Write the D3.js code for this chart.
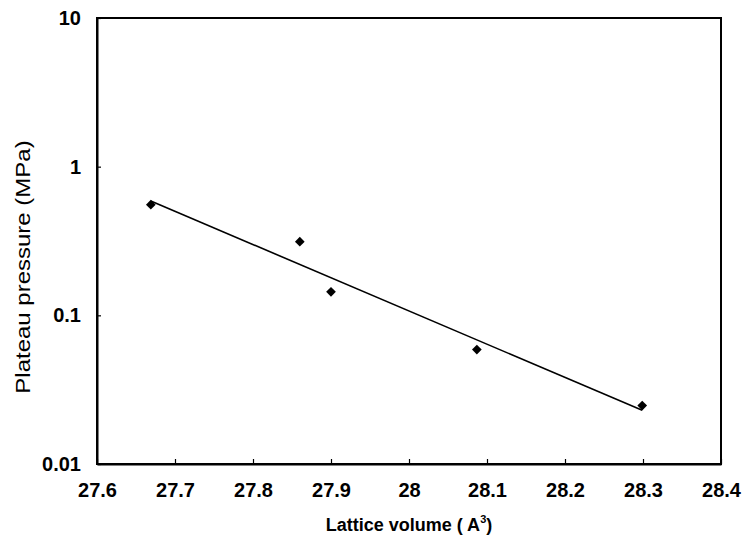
<!DOCTYPE html>
<html>
<head>
<meta charset="utf-8">
<script src="https://cdn.jsdelivr.net/npm/d3@7"></script>
<style>
  html, body { margin: 0; padding: 0; background: #fff; }
  text { font-family: "Liberation Sans", Arial, sans-serif; fill: #000; }
</style>
</head>
<body>
<svg id="chart" width="744" height="544"></svg>
<script>
// Data
const latticeVolume = [27.669, 27.860, 27.900, 28.087, 28.299];
const plateauPressure = [0.555, 0.313, 0.144, 0.0588, 0.0247];
const xTicks = [27.6, 27.7, 27.8, 27.9, 28.0, 28.1, 28.2, 28.3, 28.4];
const yTicks = [0.01, 0.1, 1, 10];
const xTickLabels = ["27.6", "27.7", "27.8", "27.9", "28", "28.1", "28.2", "28.3", "28.4"];
const yTickLabels = ["0.01", "0.1", "1", "10"];

const svg = d3.select("#chart");
const margin = { left: 97, right: 23, top: 18, bottom: 80 };
const W = 744, H = 544;
const x = d3.scaleLinear().domain([27.6, 28.4]).range([margin.left, W - margin.right]);
const y = d3.scaleLog().domain([0.01, 10]).range([H - margin.bottom, margin.top]);

// frame
svg.append("rect")
  .attr("x", x(27.6)).attr("y", y(10))
  .attr("width", x(28.4) - x(27.6)).attr("height", y(0.01) - y(10))
  .attr("fill", "none").attr("stroke", "#000").attr("stroke-width", 2);

// x axis
const xAxis = d3.axisBottom(x).tickValues(xTicks)
  .tickFormat((d, i) => xTickLabels[i]).tickSizeInner(-5).tickSizeOuter(0).tickPadding(19);
const gx = svg.append("g").attr("transform", `translate(0,${y(0.01)})`).call(xAxis);
gx.select(".domain").attr("stroke-width", 2);
gx.selectAll("line").attr("stroke-width", 1.2);
gx.selectAll("text").attr("font-size", 20).attr("font-weight", "bold")
  .attr("font-family", "Liberation Sans, Arial, sans-serif").attr("fill", "#000");

// y axis
const yAxis = d3.axisLeft(y).tickValues(yTicks)
  .tickFormat((d, i) => yTickLabels[i]).tickSizeInner(-4).tickSizeOuter(0).tickPadding(16);
const gy = svg.append("g").attr("transform", `translate(${x(27.6)},0)`).call(yAxis);
gy.select(".domain").attr("stroke-width", 2);
gy.selectAll("line").attr("stroke-width", 1.2);
gy.selectAll("text").attr("font-size", 20).attr("font-weight", "bold")
  .attr("font-family", "Liberation Sans, Arial, sans-serif").attr("fill", "#000");

// exponential trend line (least squares on log10 values)
const lx = latticeVolume, ly = plateauPressure.map(v => Math.log10(v));
const mx = d3.mean(lx), my = d3.mean(ly);
const slope = d3.sum(lx, (v, i) => (v - mx) * (ly[i] - my)) / d3.sum(lx, v => (v - mx) ** 2);
const icpt = my - slope * mx;
const xmin = d3.min(lx), xmax = d3.max(lx);
const trend = [xmin, xmax].map(v => [v, Math.pow(10, icpt + slope * v)]);
svg.append("path")
  .datum(trend)
  .attr("d", d3.line().x(d => x(d[0])).y(d => y(d[1])))
  .attr("fill", "none").attr("stroke", "#000").attr("stroke-width", 1.6);

// points (diamonds)
const sym = d3.symbol().type(d3.symbolDiamond2).size(60);
svg.append("g").selectAll("path")
  .data(latticeVolume.map((v, i) => [v, plateauPressure[i]]))
  .join("path")
  .attr("d", sym)
  .attr("transform", d => `translate(${x(d[0])},${y(d[1])})`)
  .attr("fill", "#000");

// axis titles
const xt = svg.append("text")
  .attr("x", (x(27.6) + x(28.4)) / 2).attr("y", 531)
  .attr("text-anchor", "middle").attr("font-size", 18).attr("font-weight", "bold");
xt.append("tspan").text("Lattice volume ( A");
xt.append("tspan").attr("dy", -8).attr("font-size", 11).text("3");
xt.append("tspan").attr("dy", 8).text(")");

svg.append("text")
  .attr("transform", `translate(30,267) rotate(-90) scale(1,0.85)`)
  .attr("text-anchor", "middle").attr("font-size", 24)
  .text("Plateau pressure (MPa)");
</script>
</body>
</html>
